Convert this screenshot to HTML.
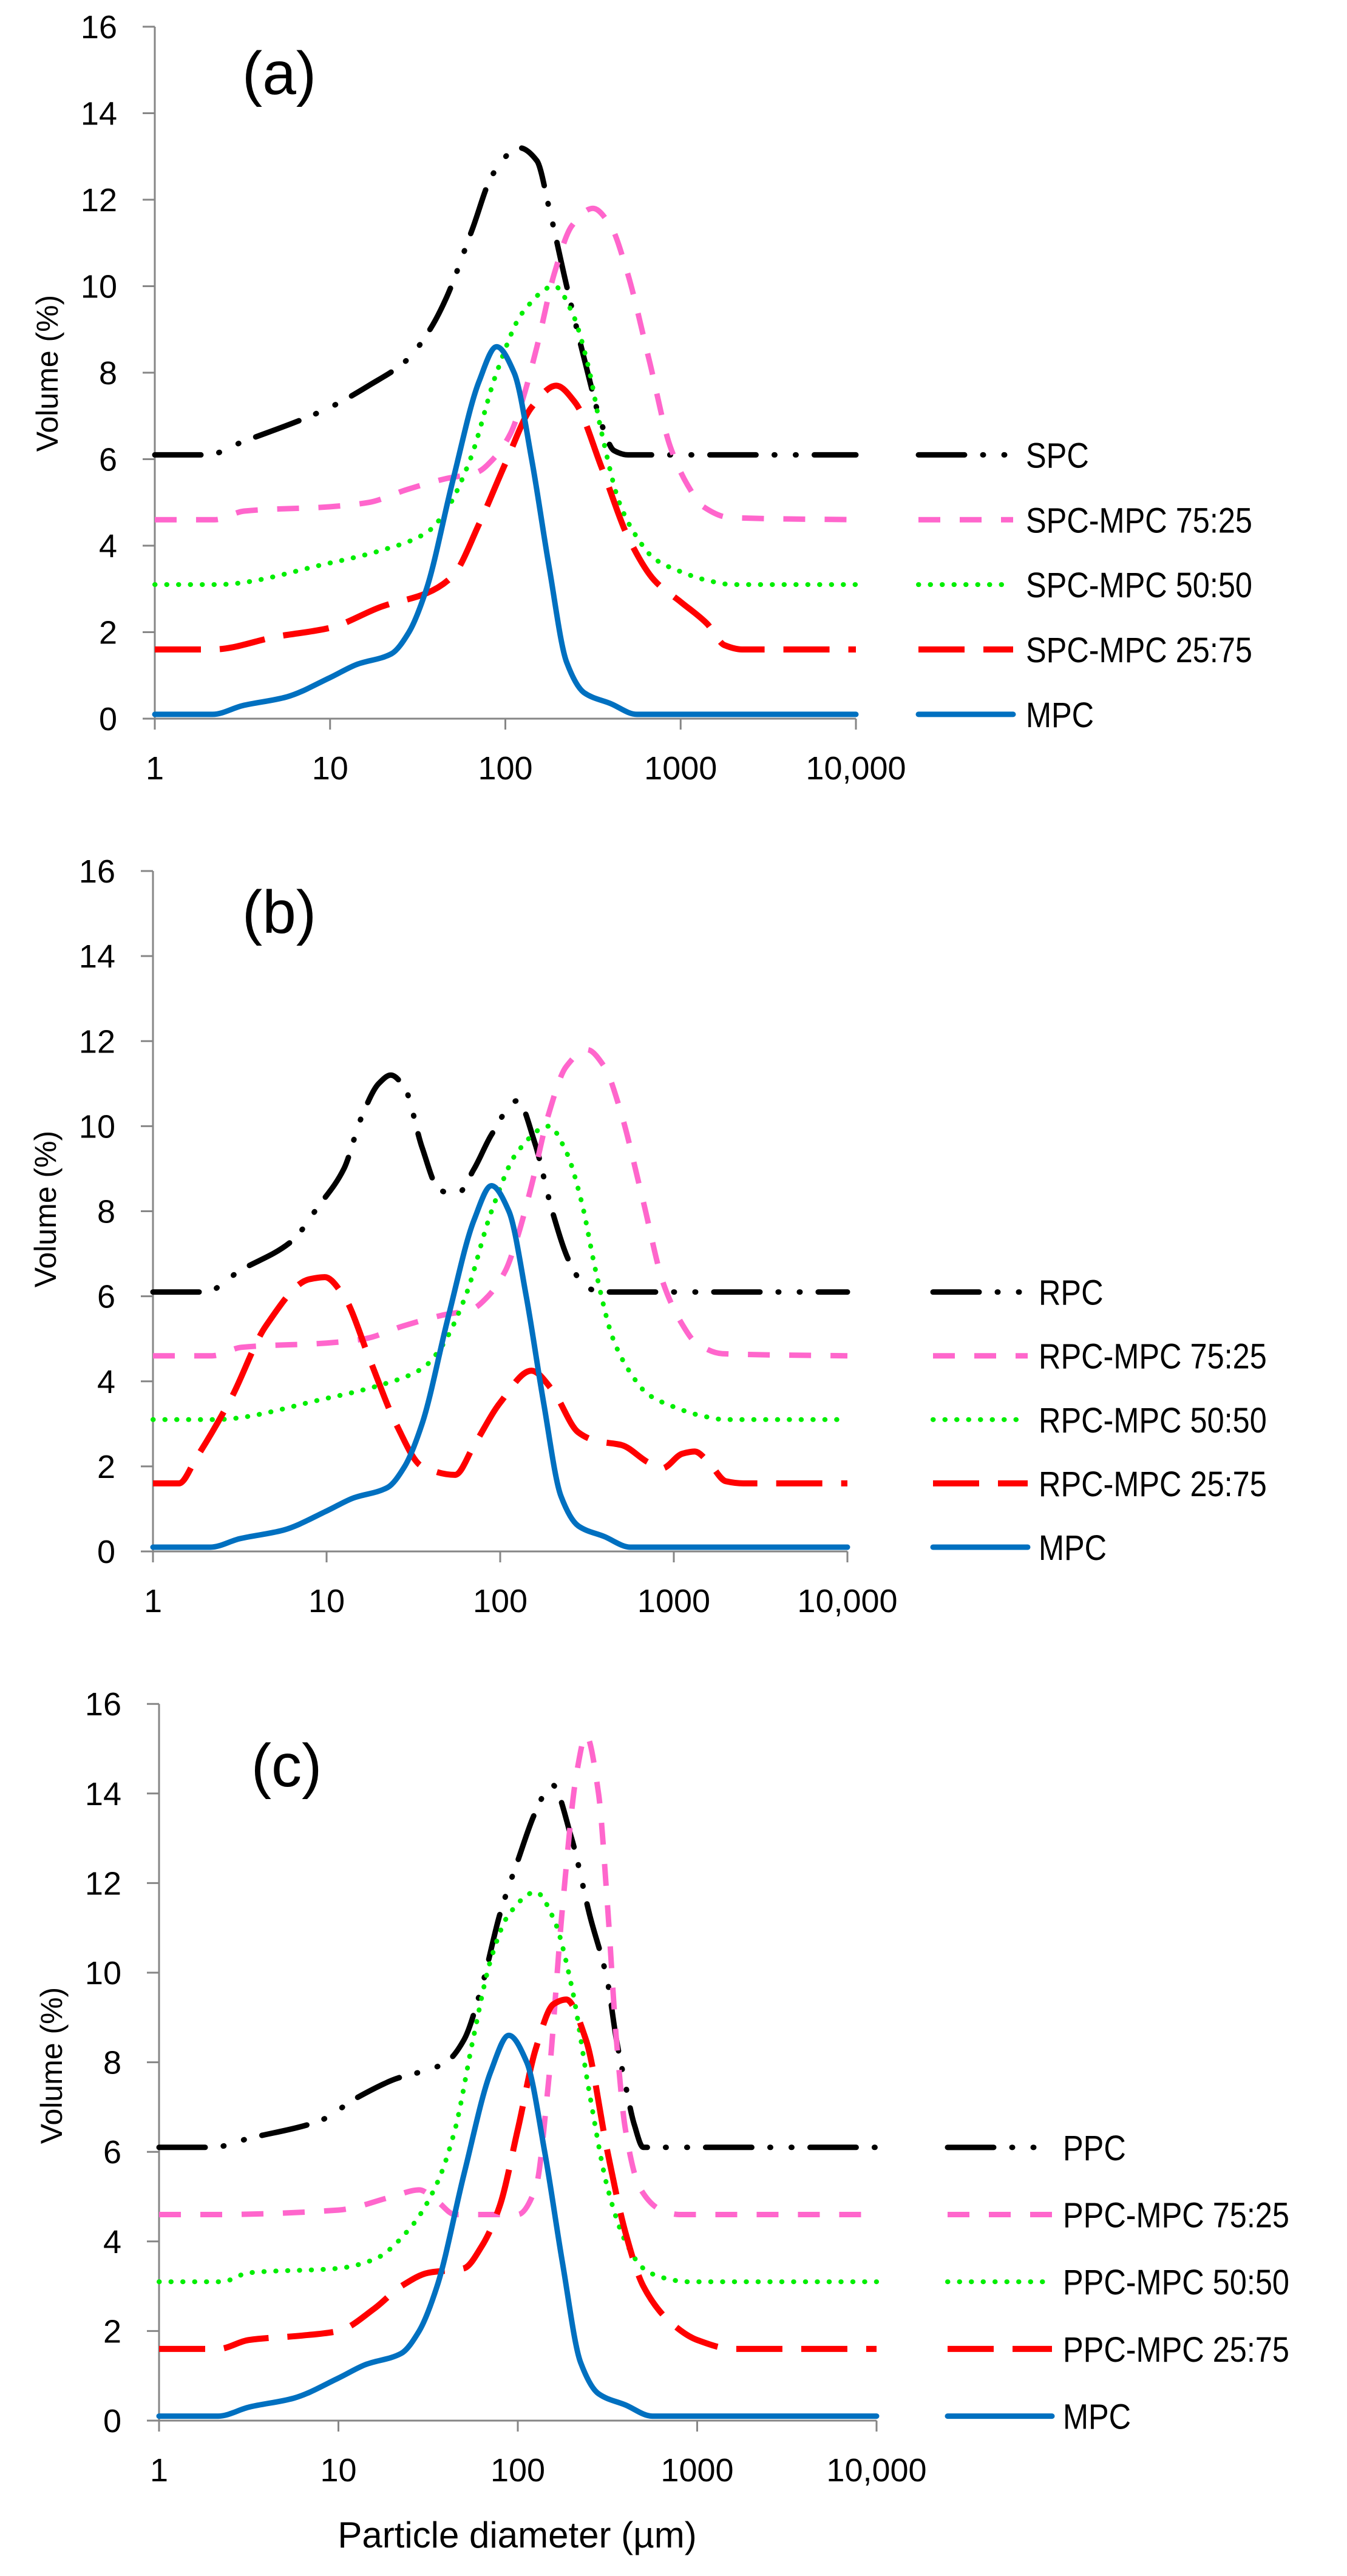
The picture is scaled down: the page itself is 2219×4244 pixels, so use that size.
<!DOCTYPE html>
<html><head><meta charset="utf-8"><style>
html,body{margin:0;padding:0;background:#fff;}
svg{display:block;}
text{font-family:"Liberation Sans",sans-serif;fill:#000;}
</style></head><body>
<svg id="fig" width="2219" height="4244" viewBox="0 0 2219 4244" xmlns="http://www.w3.org/2000/svg"></svg>
<script>
// ---- data (log10 of particle diameter in µm, volume %) ----
const mpcX = [0,0.33,0.5,0.75,1.0,1.15,1.35,1.45,1.55,1.7,1.85,1.95,2.05,2.15,2.25,2.35,2.45,2.6,2.75,4];
const mpcY = [0.1,0.1,0.3,0.5,0.95,1.25,1.5,2.0,3.0,5.5,7.8,8.6,8.0,6.0,3.5,1.3,0.6,0.35,0.1,0.1];

const aSpcX = [0,0.3,0.5,1.0,1.22,1.44,1.57,1.66,1.81,1.93,2.08,2.18,2.25,2.35,2.47,2.55,2.62,2.7,4];
const aSpcY = [6.1,6.1,6.4,7.2,7.7,8.3,9.0,9.7,11.3,12.6,13.2,12.9,11.8,10.0,8.0,6.8,6.2,6.1,6.1];
const aP75X = [0,0.34,0.51,1.0,1.22,1.44,1.66,1.84,1.93,2.03,2.1,2.18,2.28,2.38,2.5,2.6,2.69,2.82,2.94,3.04,3.13,3.28,4];
const aP75Y = [4.6,4.6,4.8,4.9,5.0,5.3,5.55,5.7,6.0,6.6,7.4,8.6,10.3,11.4,11.8,11.4,10.4,8.3,6.3,5.4,4.9,4.65,4.6];
const aP50X = [0,0.35,1.0,1.3,1.55,1.66,1.8,1.95,2.1,2.28,2.38,2.47,2.55,2.65,2.75,2.85,3.0,3.15,3.3,4];
const aP50Y = [3.1,3.1,3.6,3.9,4.3,4.8,6.0,8.0,9.4,10.0,9.4,8.2,6.6,5.0,4.2,3.7,3.4,3.2,3.1,3.1];
const aP25X = [0,0.33,0.7,1.0,1.3,1.55,1.7,1.85,2.0,2.15,2.29,2.4,2.55,2.7,2.85,3.0,3.15,3.25,3.35,4];
const aP25Y = [1.6,1.6,1.9,2.1,2.6,2.9,3.3,4.5,5.9,7.2,7.7,7.3,5.8,4.2,3.2,2.7,2.2,1.7,1.6,1.6];

const bRpcX = [0,0.3,0.5,0.8,0.95,1.1,1.2,1.3,1.37,1.45,1.55,1.65,1.75,1.85,1.95,2.1,2.2,2.3,2.4,2.5,2.6,4];
const bRpcY = [6.1,6.1,6.6,7.3,8.1,9.0,10.2,11.0,11.2,10.9,9.5,8.5,8.4,9.0,9.8,10.6,9.6,8.0,6.8,6.2,6.1,6.1];
const bP75X = aP75X;
const bP75Y = aP75Y;
const bP50X = aP50X;
const bP50Y = aP50Y;
const bP25X = [0,0.15,0.25,0.45,0.65,0.9,0.99,1.1,1.25,1.4,1.55,1.74,1.85,2.0,2.18,2.3,2.45,2.55,2.7,2.85,2.93,3.05,3.12,3.2,3.3,3.4,4];
const bP25Y = [1.6,1.6,2.2,3.6,5.3,6.4,6.45,6.0,4.5,3.0,2.0,1.8,2.5,3.5,4.25,3.8,2.8,2.6,2.5,2.1,1.95,2.3,2.35,2.1,1.65,1.6,1.6];

const cPpcX = [0,0.3,0.5,0.9,1.1,1.3,1.6,1.7,1.8,1.9,2.0,2.1,2.19,2.3,2.4,2.5,2.55,2.6,2.65,2.7,4];
const cPpcY = [6.1,6.1,6.3,6.7,7.2,7.6,8.0,8.5,9.7,11.3,12.5,13.6,14.2,13.0,11.3,9.8,8.5,7.5,6.6,6.1,6.1];
const cP75X = [0,0.3,1.0,1.3,1.45,1.55,1.65,2.0,2.1,2.17,2.25,2.33,2.38,2.45,2.5,2.55,2.6,2.68,2.8,2.9,4];
const cP75Y = [4.6,4.6,4.7,5.0,5.15,4.9,4.6,4.6,5.2,7.5,11.5,14.5,15.3,14.0,11.5,8.5,6.5,5.2,4.7,4.6,4.6];
const cP50X = [0,0.35,0.5,1.0,1.2,1.4,1.55,1.65,1.75,1.85,1.95,2.1,2.2,2.3,2.4,2.5,2.6,2.7,2.8,2.95,4];
const cP50Y = [3.1,3.1,3.3,3.4,3.6,4.3,5.3,6.5,8.5,10.3,11.3,11.8,11.2,9.7,7.3,5.2,4.0,3.4,3.2,3.1,3.1];
const cP25X = [0,0.33,0.5,0.8,1.0,1.2,1.35,1.5,1.7,1.8,1.9,2.0,2.1,2.2,2.27,2.38,2.5,2.6,2.7,2.85,3.0,3.2,4];
const cP25Y = [1.6,1.6,1.8,1.9,2.0,2.5,3.0,3.3,3.4,3.9,4.8,6.5,8.3,9.3,9.4,8.5,6.0,4.2,3.0,2.2,1.8,1.6,1.6];

const yTicks = [0,2,4,6,8,10,12,14,16];
const xTicks = [0,1,2,3,4];
const xTickLabels = ["1","10","100","1000","10,000"];

// ---- rendering ----
const NS = "http://www.w3.org/2000/svg";
const svg = document.getElementById('fig');
function mk(tag, attrs, parent){
  const e = document.createElementNS(NS, tag);
  for (const k in attrs) e.setAttribute(k, attrs[k]);
  (parent||svg).appendChild(e);
  return e;
}
const styles = {
  black:{stroke:"#000000", dash:"76 30 1 34 1 30", cap:"round", w:9},
  pink:{stroke:"#ff66cc", dash:"36 32", cap:"butt", w:9},
  green:{stroke:"#00ee00", dash:"0.5 19", cap:"round", w:8},
  red:{stroke:"#ff0000", dash:"76 31", cap:"butt", w:10},
  blue:{stroke:"#0070c0", dash:"", cap:"round", w:9}
};
// monotone cubic (Fritsch-Carlson) to avoid overshoot
function pathFrom(px){
  const n = px.length;
  const dx=[], m=[], t=new Array(n);
  for (let i=0;i<n-1;i++){ dx[i]=px[i+1][0]-px[i][0]; m[i]=(px[i+1][1]-px[i][1])/dx[i]; }
  t[0]=m[0]; t[n-1]=m[n-2];
  for (let i=1;i<n-1;i++){
    if (m[i-1]*m[i]<=0) t[i]=0;
    else { const w1=2*dx[i]+dx[i-1], w2=dx[i]+2*dx[i-1]; t[i]=(w1+w2)/(w1/m[i-1]+w2/m[i]); }
  }
  let d = "M"+px[0][0].toFixed(1)+","+px[0][1].toFixed(1);
  for (let i=0;i<n-1;i++){
    const h=dx[i]/3;
    d += " C"+(px[i][0]+h).toFixed(1)+","+(px[i][1]+t[i]*h).toFixed(1)+" "+(px[i+1][0]-h).toFixed(1)+","+(px[i+1][1]-t[i+1]*h).toFixed(1)+" "+px[i+1][0].toFixed(1)+","+px[i+1][1].toFixed(1);
  }
  return d;
}
function panel(cfg){
  const g = mk('g',{});
  
  
  const sx = v => cfg.x0 + v*cfg.dec;
  const sy = v => cfg.y0 - v*cfg.ppu;
  const ya = mk('line',{x1:sx(0),y1:sy(16),x2:sx(0),y2:sy(0),stroke:"#868686","stroke-width":3},g);
  
  
  const xa = mk('line',{x1:sx(0)-20,y1:sy(0),x2:sx(4),y2:sy(0),stroke:"#868686","stroke-width":3},g);
  
  
  yTicks.forEach(t=>{
    mk('line',{x1:sx(0)-20,y1:sy(t),x2:sx(0),y2:sy(t),stroke:"#868686","stroke-width":3},g);
    const tl = mk('text',{x:sx(0)-62,y:sy(t)+19,"text-anchor":"end","font-size":54},g);
    tl.textContent = t;
    
    
  });
  xTicks.forEach((t,i)=>{
    mk('line',{x1:sx(t),y1:sy(0),x2:sx(t),y2:sy(0)+18,stroke:"#868686","stroke-width":3},g);
    const tl = mk('text',{x:sx(t),y:sy(0)+100,"text-anchor":"middle","font-size":54},g);
    tl.textContent = xTickLabels[i];
    
    
  });
  const yt = mk('text',{x:0,y:0,"text-anchor":"middle","font-size":50,transform:"translate("+(cfg.x0-160)+","+cfg.ytY+") rotate(-90)"},g);
  yt.textContent = "Volume (%)";
  
  
  const pl = mk('text',{x:cfg.lx,y:cfg.ly+35,"text-anchor":"middle","font-size":100},g);
  pl.textContent = "("+cfg.id+")";
  
  
  cfg.series.forEach((s,idx)=>{
    const st = styles[s.style];
    const px = s.x.map((v,i)=>[sx(v), sy(s.y[i])]);
    const p = mk('path',{d:pathFrom(px),fill:"none",stroke:st.stroke,"stroke-width":st.w,"stroke-dasharray":st.dash,"stroke-linecap":st.cap,"stroke-linejoin":"round"},g);
    
    
    const ly = sy(s.y[s.y.length-1]);
    const le = mk('g',{},g);
    
    
    mk('line',{x1:cfg.legX1,y1:ly,x2:cfg.legX2,y2:ly,stroke:st.stroke,"stroke-width":st.w,"stroke-dasharray":st.dash,"stroke-linecap":st.cap},le);
    const tx = mk('text',{x:cfg.legT,y:ly+21,"font-size":58},le);
    tx.textContent = s.name;
    const L = tx.getComputedTextLength();
    if (L>0){ tx.setAttribute('textLength', (L*0.87).toFixed(1)); tx.setAttribute('lengthAdjust','spacingAndGlyphs'); }
  });
}
panel({id:"a", x0:255, dec:288.75, y0:1184, ppu:71.25, lx:460, ly:120, ytY:615, legX1:1513, legX2:1669, legT:1690,
  series:[{name:"SPC",style:"black",x:aSpcX,y:aSpcY},{name:"SPC-MPC 75:25",style:"pink",x:aP75X,y:aP75Y},
          {name:"SPC-MPC 50:50",style:"green",x:aP50X,y:aP50Y},{name:"SPC-MPC 25:75",style:"red",x:aP25X,y:aP25Y},
          {name:"MPC",style:"blue",x:mpcX,y:mpcY}]});
panel({id:"b", x0:252, dec:286, y0:2556, ppu:70.06, lx:460, ly:1502, ytY:1992, legX1:1537, legX2:1693, legT:1711,
  series:[{name:"RPC",style:"black",x:bRpcX,y:bRpcY},{name:"RPC-MPC 75:25",style:"pink",x:bP75X,y:bP75Y},
          {name:"RPC-MPC 50:50",style:"green",x:bP50X,y:bP50Y},{name:"RPC-MPC 25:75",style:"red",x:bP25X,y:bP25Y},
          {name:"MPC",style:"blue",x:mpcX,y:mpcY}]});
panel({id:"c", x0:262, dec:295.5, y0:3988, ppu:73.8, lx:472, ly:2908, ytY:3403, legX1:1561, legX2:1733, legT:1751,
  series:[{name:"PPC",style:"black",x:cPpcX,y:cPpcY},{name:"PPC-MPC 75:25",style:"pink",x:cP75X,y:cP75Y},
          {name:"PPC-MPC 50:50",style:"green",x:cP50X,y:cP50Y},{name:"PPC-MPC 25:75",style:"red",x:cP25X,y:cP25Y},
          {name:"MPC",style:"blue",x:mpcX,y:mpcY}]});
const xt = mk('text',{x:852,y:4197,"text-anchor":"middle","font-size":60});
xt.textContent = "Particle diameter (µm)";


</script>
</body></html>
